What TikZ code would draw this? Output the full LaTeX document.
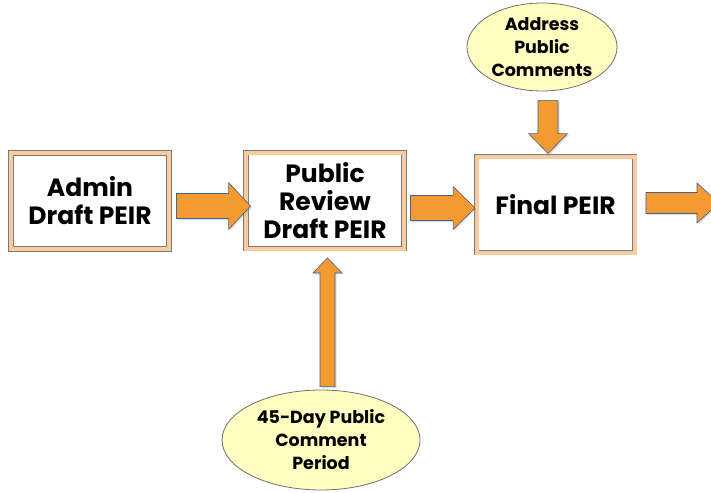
\documentclass[tikz,border=0pt]{standalone}
\usepackage{fontspec}
\setmainfont{Poppins}
\usetikzlibrary{calc,shadows,shapes.geometric}
\definecolor{arrowfill}{HTML}{F39A30}
\definecolor{arrowedge}{HTML}{45618F}
\definecolor{frameband}{HTML}{F8CC9E}
\definecolor{frameline}{HTML}{7A7A7A}
\definecolor{bubblefill}{HTML}{FFFDC0}
\definecolor{bubbleedge}{HTML}{707070}
\tikzset{
  stagebox/.style={draw=frameline, line width=0.9pt, double=frameband,
    double distance=4pt, fill=white, minimum width=158pt, minimum height=96pt,
    align=center, inner sep=0pt,
    font=\fontsize{25}{28}\selectfont\bfseries},
  bubble/.style={ellipse, draw=bubbleedge, line width=0.8pt, fill=bubblefill,
    align=center, inner sep=0pt,
    font=\fontsize{17.5}{23}\selectfont\bfseries},
  blockarrow/.style={fill=arrowfill, draw=arrowedge, line width=0.6pt,
    line join=miter,
    drop shadow={opacity=0.25, shadow xshift=1.5pt, shadow yshift=-1.5pt}},
}
% horizontal block arrow: #1 tail point, #2 tip point (same height),
% #3 body half-height, #4 head half-height, #5 head length
\newcommand\rightblock[5]{%
  \path[blockarrow] let \p1=#1, \p2=#2 in
    (\x1,\y1+#3) -- (\x2-#5,\y1+#3) -- (\x2-#5,\y1+#4) -- (\x2,\y1)
    -- (\x2-#5,\y1-#4) -- (\x2-#5,\y1-#3) -- (\x1,\y1-#3) -- cycle;}
% vertical block arrow: #1 tail point, #2 tip point (same x),
% #3 body half-width, #4 head half-width, #5 head length (signed, towards tail)
\newcommand\vertblock[5]{%
  \path[blockarrow] let \p1=#1, \p2=#2 in
    (\x1+#3,\y1) -- (\x1+#3,\y2+#5) -- (\x1+#4,\y2+#5) -- (\x1,\y2)
    -- (\x1-#4,\y2+#5) -- (\x1-#3,\y2+#5) -- (\x1-#3,\y1) -- cycle;}
\begin{document}
\begin{tikzpicture}[x=1pt,y=-1pt]
  \useasboundingbox[fill=white] (0,0) rectangle (711,492);

  % process stages
  \node[stagebox] (admin)  at (90,201)    {Admin\\Draft PEIR};
  \node[stagebox] (review) at (325,200.5) {Public\\Review\\Draft PEIR};
  \node[stagebox] (final)  at (555.5,204.5) {Final PEIR};

  % inputs
  \node[bubble, minimum width=150pt, minimum height=88pt] (address)
    at (542,47) {Address\\Public\\Comments};
  \node[bubble, minimum width=198pt, minimum height=100pt] (period)
    at (321,440) {45-Day Public\\Comment\\Period};

  % tips and tails of the block arrows
  \coordinate (a1t) at ($(admin.east)+(7,5)$);
  \coordinate (a1h) at ($(review.west)+(5,5.5)$);
  \coordinate (a2t) at ($(review.east)+(6,7.5)$);
  \coordinate (a2h) at ($(final.west)+(-1,3.5)$);
  \coordinate (a3t) at ($(final.east)+(11,-1.5)$);
  \coordinate (out) at (719,203);
  \coordinate (d1t) at ($(address.south)+(6,9)$);
  \coordinate (d1h) at ($(final.north)+(-7.5,-2.5)$);
  \coordinate (u1t) at ($(period.north)+(6.5,-3)$);
  \coordinate (u1h) at ($(review.south)+(2.5,9)$);

  \rightblock{(a1t)}{(a1h)}{12.5pt}{23.5pt}{22pt}
  \rightblock{(a2t)}{(a2h)}{12.5pt}{21.5pt}{22pt}
  \rightblock{(a3t)}{(out)}{10.5pt}{20pt}{22pt}
  \vertblock{(d1t)}{(d1h)}{10pt}{19.5pt}{20pt}
  \vertblock{(u1t)}{(u1h)}{7.5pt}{14.5pt}{-15pt}
\end{tikzpicture}
\end{document}
